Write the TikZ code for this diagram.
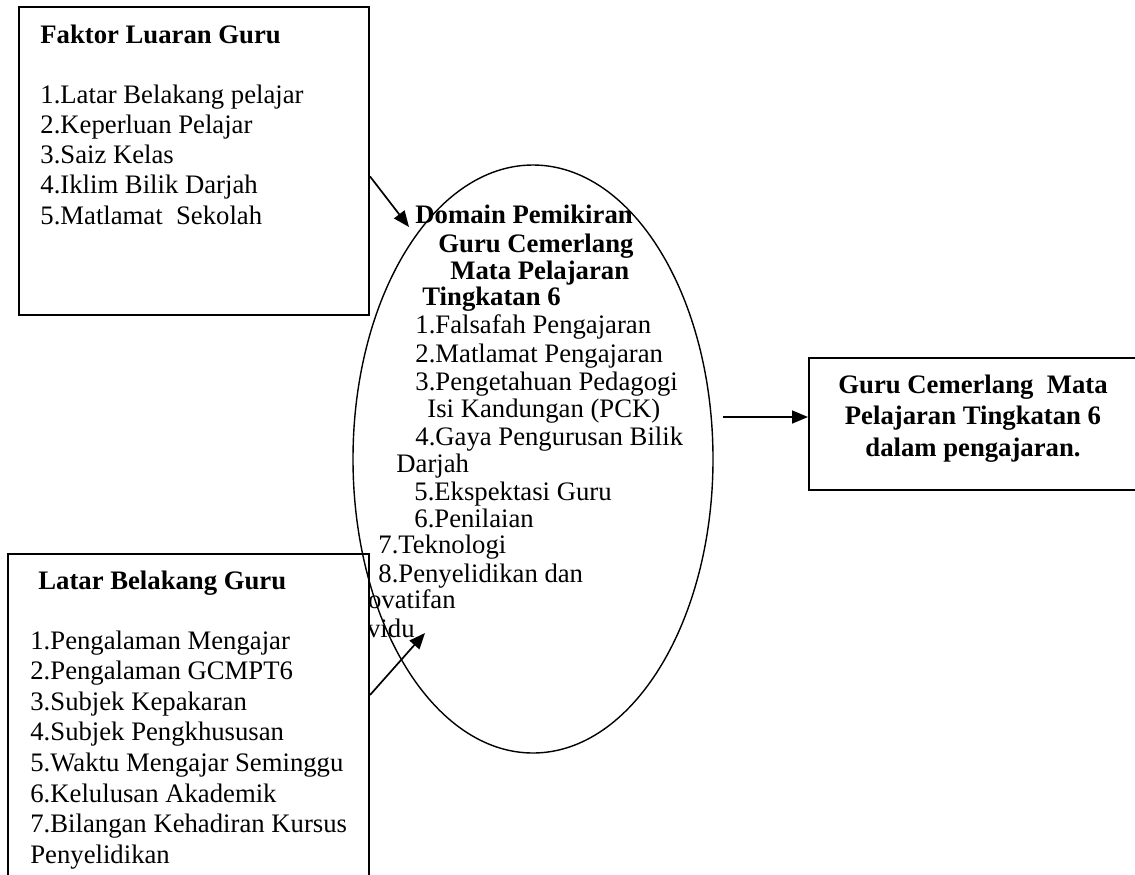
\documentclass[tikz,border=0pt]{standalone}
\usepackage{fontspec}
\setmainfont{Liberation Serif}
\usetikzlibrary{arrows.meta,shapes.geometric,positioning}

\begin{document}
\begin{tikzpicture}[x=0.5pt,y=-0.5pt]
\tikzstyle{kotak}=[rectangle,draw=black,line width=1pt,inner sep=0pt]
\tikzstyle{isi}=[inner sep=0pt,anchor=base west,font=\fontsize{13.35}{16}\selectfont]
\tikzstyle{tajuk}=[isi,font=\fontsize{13.35}{16}\selectfont\bfseries]
\tikzstyle{panah}=[-{Triangle[length=8pt,width=6.5pt]},line width=0.85pt]

\useasboundingbox (0,0) rectangle (1135,874);
\clip (0,0) rectangle (1135,874);

% faktor luaran guru
\node[kotak,minimum width=175pt,minimum height=154pt] (luaran) at (194,161) {};
\node[tajuk] (luarantajuk) at (40,43) {Faktor Luaran Guru};
\foreach \t [count=\i] in {1.Latar Belakang pelajar,2.Keperluan Pelajar,3.Saiz Kelas,4.Iklim Bilik Darjah,5.Matlamat\ \ Sekolah}
  \node[isi] (luaran\i) at (40,{103+30.3*(\i-1)}) {\t};

% isi domain (di bawah kotak latar)
\foreach \x/\y/\t [count=\i] in {415/223/Domain Pemikiran,438/252/Guru Cemerlang,450/279/Mata Pelajaran,422/305/Tingkatan 6}
  \node[tajuk] (domaintajuk\i) at (\x,\y) {\t};
\foreach \x/\y/\t [count=\i] in {415/333/1.Falsafah Pengajaran,415/362/2.Matlamat Pengajaran,415/390/3.Pengetahuan Pedagogi,427/417/Isi Kandungan (PCK),415/445/4.Gaya Pengurusan Bilik,396/472/Darjah,414/500/5.Ekspektasi Guru,414/527/6.Penilaian,378/553/7.Teknologi,378/582/8.Penyelidikan dan}
  \node[isi] (domain\i) at (\x,\y) {\t};
\node[isi,anchor=base east] (domain11) at (456,608) {Inovatifan};
\node[isi,anchor=base east] (domain12) at (415,637) {Individu};

% latar belakang guru
\node[kotak,fill=white,minimum width=180.5pt,minimum height=173pt] (latar) at (188.5,727) {};
\node[tajuk] (latartajuk) at (38,589) {Latar Belakang Guru};
\foreach \t [count=\i] in {1.Pengalaman Mengajar,2.Pengalaman GCMPT6,3.Subjek Kepakaran,4.Subjek Pengkhususan,5.Waktu Mengajar Seminggu,6.Kelulusan Akademik,7.Bilangan Kehadiran Kursus,Penyelidikan}
  \node[isi] (latar\i) at (30,{649+30.6*(\i-1)}) {\t};

% domain
\node[ellipse,draw=black,line width=0.7pt,minimum width=180pt,minimum height=294pt,inner sep=0pt] (domain) at (533,459) {};

% hasil
\node[kotak,minimum width=168pt,minimum height=66pt] (hasil) at (977,424) {};
\foreach \y/\t [count=\i] in {393/Guru Cemerlang\ \ Mata,424/Pelajaran Tingkatan 6,456/dalam pengajaran.}
  \node[tajuk,anchor=base] (hasil\i) at (973,\y) {\t};

% anak panah
\coordinate (tip1) at (409,227);
\coordinate (tip2) at (425,633);
\coordinate (tail3) at (723,417);
\draw[panah] (luaran.-5.2) -- (tip1);
\draw[panah] (latar.10) -- (tip2);
\draw[panah] (tail3) -- (tail3 -| hasil.west);
\end{tikzpicture}
\end{document}
